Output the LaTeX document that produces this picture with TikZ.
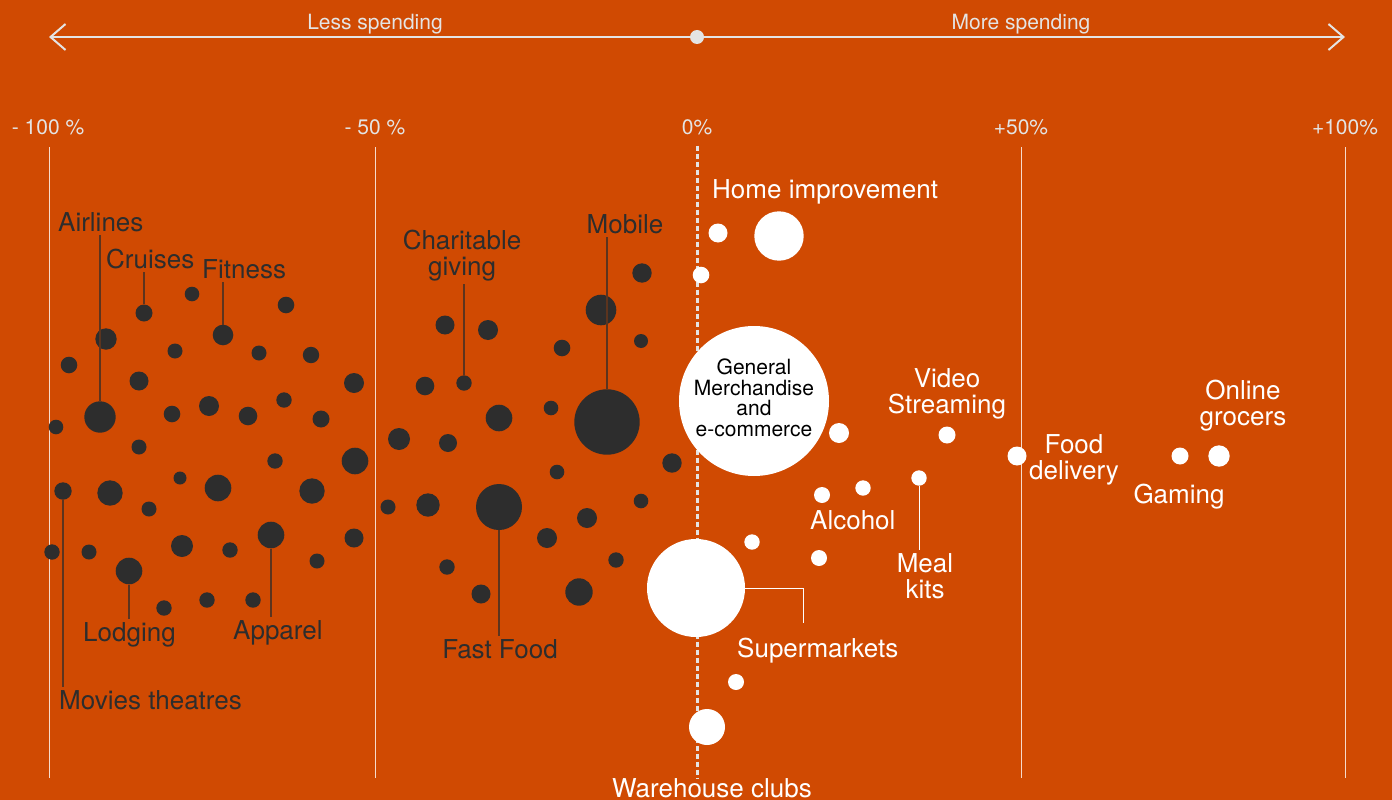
\documentclass[tikz,border=0pt]{standalone}
\usepackage{fontspec}
\setmainfont{TeX Gyre Heros}
\usepackage{xcolor}
\usepackage{tikz}
\usetikzlibrary{arrows.meta}
\usetikzlibrary{positioning}
\definecolor{bgorange}{RGB}{208,74,2}
\definecolor{dotdark}{RGB}{45,45,45}
\definecolor{axisgray}{RGB}{228,228,228}
\definecolor{leadcol}{RGB}{92,52,30}
\tikzset{>={Straight Barb[length=15pt,width=26pt,line width=2pt]}}
\tikzset{
  ddot/.style={circle,fill=dotdark,inner sep=0pt},
  wdot/.style={circle,fill=white,inner sep=0pt},
  dlab/.style={text=dotdark,font=\fontsize{26}{26}\selectfont,inner xsep=0pt,inner ysep=3pt,align=center},
  wlab/.style={text=white,font=\fontsize{26}{26}\selectfont,inner xsep=0pt,inner ysep=3pt,align=center},
  ticklab/.style={text=axisgray,font=\fontsize{21}{22}\selectfont,inner sep=3pt},
  gridline/.style={draw=white!80!bgorange,line width=1pt},
  zeroline/.style={draw=axisgray,line width=3pt,dash pattern=on 5pt off 3pt},
  dleader/.style={draw=leadcol,line width=1.3pt},
  wleader/.style={draw=white,line width=1pt}
}

\begin{document}
\begin{tikzpicture}[x=1pt,y=-1pt]
\fill[bgorange] (0,0) rectangle (1392,800);
\useasboundingbox (0,0) rectangle (1392,800);

\node[ticklab] at (375,30) [anchor=base] {Less spending};
\node[ticklab] at (1021,30) [anchor=base] {More spending};
\node[circle,fill=axisgray,inner sep=0pt,minimum size=14] (zero) at (697,37) {};
\coordinate (lend) at (49,37);
\coordinate (rend) at (1345,37);
\draw[->,draw=axisgray,line width=1.4pt] (zero) -- (lend);
\draw[->,draw=axisgray,line width=1.4pt] (zero) -- (rend);

\coordinate (bottom) at (0,778);
\node[ticklab,anchor=base] (tm100) at (48,134) {- 100 \%};
\node[ticklab,anchor=base] (tm50) at (375,134) {- 50 \%};
\node[ticklab,anchor=base] (t0) at (697,134) {0\%};
\node[ticklab,anchor=base] (tp50) at (1021,134) {+50\%};
\node[ticklab,anchor=base] (tp100) at (1345,134) {+100\%};
\foreach \t/\x in {tm100/49,tm50/375,tp50/1021,tp100/1345}
  \draw[gridline] (\x,147) -- (\x,778);
\draw[zeroline] ([yshift=-8pt]t0.south) -- (t0 |- bottom);

\foreach \n/\x/\y/\r in {
  airl/100/417/15.7, d2/106/339/10.7, crui/144/313/8.5, d4/192/294/7.3,
  fitn/223/335/10.3, d6/286/305/8.3, d7/69/365/8.3, d8/175/351/7.5,
  d9/259/353/7.5, d10/311/355/8.2, d11/139/381/9.5, d12/354/383/10,
  d13/56/427/7.3, d14/172/414/8.3, d15/209/406/10, d16/248/416/9.3,
  d17/284/400/7.7, d18/321/419/8.5, d19/139/447/7.5, movi/63/491/8.7,
  d21/110/493/12.7, d22/180/478/6.5, d23/149/509/7.5, d24/218/488/13.3,
  d25/275/461/7.7, d26/312/491/12.7, d27/355/461/13.3, d28/388/507/7.5,
  d29/52/552/7.7, d30/89/552/7.5, lodg/129/571/13.3, d32/182/546/11,
  d33/230/550/7.7, appa/271/535/13.3, d35/317/561/7.5, d36/354/538/9.5,
  d37/164/608/7.7, d38/207/600/7.7, d39/253/600/7.7,
  d40/642/273/9.7, d41/601/310/15.3, d42/641/341/7, d43/562/348/8.3,
  d44/445/325/9.5, d45/488/330/10, char/464/383/7.7, d47/425/386/9.3,
  d48/499/418/13.3, d49/551/408/7.3, mobi/607/422/32.7, d51/399/439/11,
  d52/448/443/9, d53/672/463/9.7, d54/557/472/7.3, d55/428/505/11.7,
  fast/499/507/23, d57/641/501/7.3, d58/587/518/10, d59/547/538/10,
  d60/447/567/7.7, d61/616/560/7.7, d62/481/594/9.5, d63/579/592/13.7}
  \node[ddot,minimum size=2*\r] (\n) at (\x,\y) {};

\foreach \n/\x/\y/\r in {
  w1/718/233/9.5, home/779/236/24.7, w3/701/275/8.3, w4/839/433/10,
  vide/947/435/8.5, food/1017/456/9.5, alco/822/495/8, w8/863/488/7.7,
  meal/919/478/7.7, w10/752/542/7.7, w11/819/558/8, supm/696/588/49,
  w13/736/682/8, ware/707/727/18, gami/1180/456/8.5, onli/1219/456/10.7}
  \node[wdot,minimum size=2*\r] (\n) at (\x,\y) {};

\node[wdot,minimum size=150] (genm) at (754,401) {};
\node[text=black,align=center,font=\fontsize{21}{20.5}\selectfont] (lgenm) at (754,398)
  {General\\Merchandise\\and\\e-commerce};

\node[dlab,anchor=base west] (lairl) at (58,231) {Airlines};
\node[dlab,anchor=base west] (lcrui) at (106,268) {Cruises};
\node[dlab,anchor=base west] (lfitn) at (202,278) {Fitness};
\node[dlab,anchor=base west] (llodg) at (83,641) {Lodging};
\node[dlab,anchor=base west] (lappa) at (233,639) {Apparel};
\node[dlab,anchor=base west] (lmovi) at (59,709) {Movies theatres};
\node[dlab,anchor=base] (lchar) at (462,275) {Charitable\\giving};
\node[dlab,anchor=base] (lmobi) at (625,233) {Mobile};
\node[dlab,anchor=base] (lfast) at (500,658) {Fast Food};

\node[wlab,anchor=base west] (lhome) at (712,198) {Home improvement};
\node[wlab,anchor=base] (lvide) at (947,413) {Video\\Streaming};
\node[wlab,anchor=base west] (lalco) at (810,529) {Alcohol};
\node[wlab,anchor=base] (lmeal) at (925,598) {Meal\\kits};
\node[wlab,anchor=base west] (lsupm) at (737,657) {Supermarkets};
\node[wlab,anchor=base west] (lware) at (612,797) {Warehouse clubs};
\node[wlab,anchor=base] (lfood) at (1074,479) {Food\\delivery};
\node[wlab,anchor=base] (lonli) at (1243,425) {Online\\grocers};
\node[wlab,anchor=base] (lgami) at (1179,503) {Gaming};

\draw[dleader] (airl) -- (airl |- lairl.south);
\draw[dleader] (crui) -- (crui |- lcrui.south);
\draw[dleader] (fitn) -- (fitn |- lfitn.south);
\draw[dleader] (char) -- (char |- lchar.south);
\draw[dleader] (mobi) -- (mobi |- lmobi.south);
\draw[dleader] (movi) -- (movi |- lmovi.north);
\draw[dleader] (lodg) -- (lodg |- llodg.north);
\draw[dleader] (appa) -- (appa |- lappa.north);
\draw[dleader] (fast) -- (fast |- lfast.north);

\coordinate (supk) at (803,623);
\draw[wleader] (supm.east) -| (supk);
\draw[wleader] (meal) -- (meal |- lmeal.north);
\end{tikzpicture}
\end{document}
